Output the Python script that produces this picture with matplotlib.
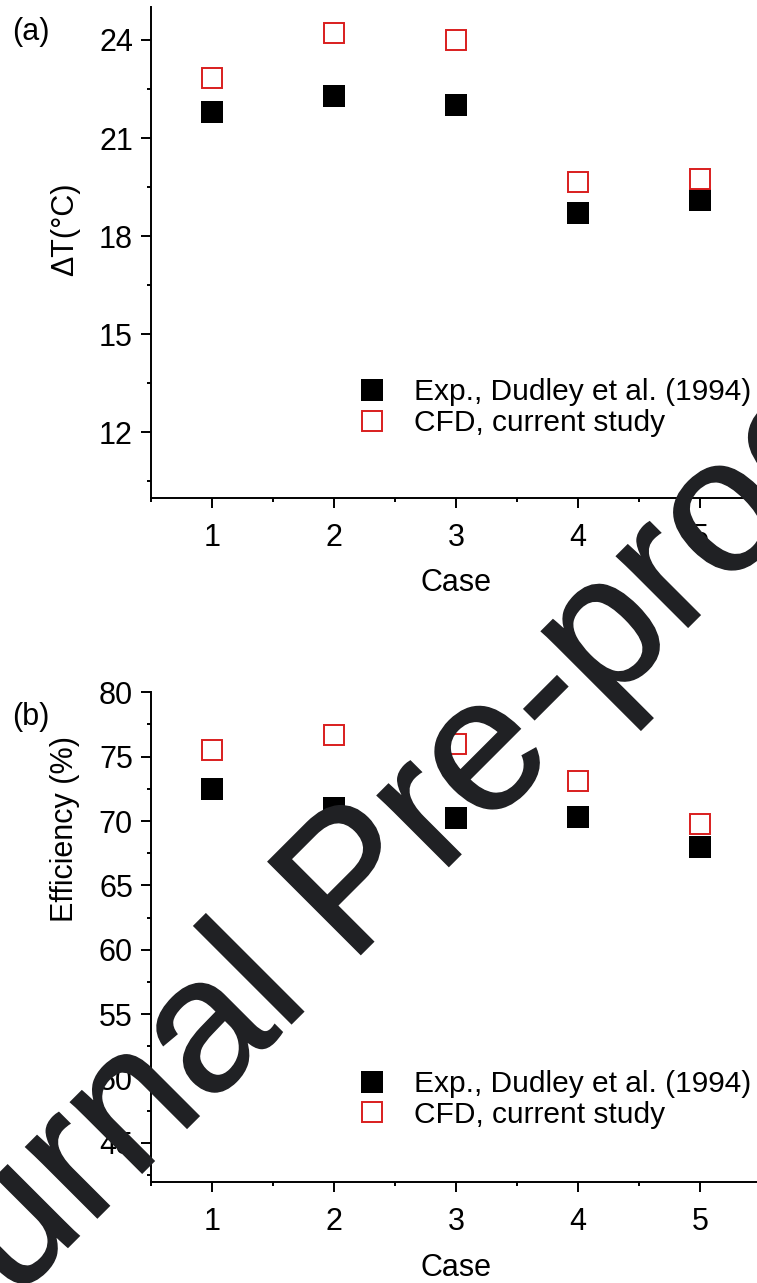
import matplotlib
matplotlib.use("Agg")
import matplotlib.pyplot as plt
import matplotlib.patheffects as pe
from matplotlib.ticker import MultipleLocator

plt.rcParams["font.family"] = ["Liberation Sans", "DejaVu Sans"]
plt.rcParams["font.size"] = 22

# Values
cases = [1, 2, 3, 4, 5]
dT_exp = [21.8, 22.3, 22.0, 18.7, 19.1]
dT_cfd = [22.85, 24.2, 24.0, 19.65, 19.75]
eff_exp = [72.5, 71.0, 70.2, 70.3, 68.0]
eff_cfd = [75.5, 76.7, 76.0, 73.1, 69.8]

exp_label = "Exp., Dudley et al. (1994)"
cfd_label = "CFD, current study"
red = "#d91e1e"

W, H = 757, 1283
fig = plt.figure(figsize=(W / 100, H / 100), dpi=100)

# axes boxes in pixels: left, top, right, bottom
boxes = [(151, 7.3, 761, 497.7), (151, 692.3, 761, 1181.5)]
axes = []
for l, t, r, b in boxes:
    axes.append(fig.add_axes([l / W, 1 - b / H, (r - l) / W, (b - t) / H]))


def style(ax, ylim, major, minor):
    ax.set_xlim(0.5, 5.5)
    ax.set_ylim(*ylim)
    ax.xaxis.set_major_locator(MultipleLocator(1))
    ax.xaxis.set_minor_locator(MultipleLocator(0.5))
    ax.yaxis.set_major_locator(MultipleLocator(major))
    ax.yaxis.set_minor_locator(MultipleLocator(minor))
    for s in ["top", "right"]:
        ax.spines[s].set_visible(False)
    for s in ["left", "bottom"]:
        ax.spines[s].set_linewidth(1.4)
    ax.tick_params(which="both", direction="out", width=1.4)
    ax.tick_params(which="major", length=7.2)
    ax.tick_params(which="minor", length=3.2)
    ax.tick_params(axis="y", pad=5.8)
    ax.tick_params(axis="x", pad=11)


def plot_pair(ax, exp, cfd):
    ax.plot(cases, exp, ls="none", marker="s", ms=16, mfc="black",
            mec="black", mew=0, label=exp_label)
    ax.plot(cases, cfd, ls="none", marker="s", ms=14, mfc="none",
            mec=red, mew=1.4, label=cfd_label)


ax1, ax2 = axes
plot_pair(ax1, dT_exp, dT_cfd)
style(ax1, (10, 25), 3, 1.5)
ax1.set_xlabel("Case")
ax1.xaxis.set_label_coords(0.5, -0.143)
ax1.set_ylabel("ΔT(°C)", va="center")
ax1.yaxis.set_label_coords(-0.141, 0.548)
ax1.legend(loc="upper left", bbox_to_anchor=(0.343, 0.244), frameon=False,
           borderpad=0, borderaxespad=0, handlelength=0.8,
           handletextpad=1.0, labelspacing=0.1, fontsize=21.5)

plot_pair(ax2, eff_exp, eff_cfd)
style(ax2, (42, 80), 5, 2.5)
ax2.set_xlabel("Case")
ax2.xaxis.set_label_coords(0.5, -0.147)
ax2.set_ylabel("Efficiency (%)", va="center")
ax2.yaxis.set_label_coords(-0.141, 0.72)
ax2.legend(loc="upper left", bbox_to_anchor=(0.343, 0.228), frameon=False,
           borderpad=0, borderaxespad=0, handlelength=0.8,
           handletextpad=1.0, labelspacing=0.1, fontsize=21.5)

fig.text(31 / W, 1 - 32 / H, "(a)", ha="center", va="center")
fig.text(31 / W, 1 - 717 / H, "(b)", ha="center", va="center")

# watermark
fig.text(391 / W, 1 - 924 / H, "Journal Pre-proof", fontsize=137,
         color="#202124", rotation=45, rotation_mode="anchor",
         ha="center", va="baseline", zorder=10,
         path_effects=[pe.withStroke(linewidth=1.2, foreground="#202124",
                                     joinstyle="miter", capstyle="butt")])

fig.savefig("out.png", dpi=100)
